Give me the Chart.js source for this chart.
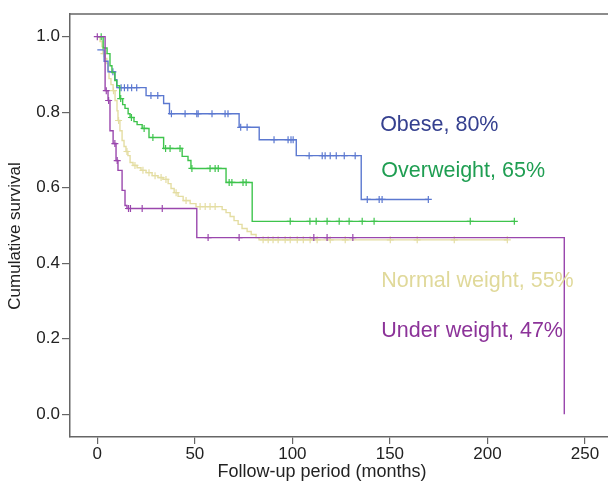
<!DOCTYPE html>
<html>
<head>
<meta charset="utf-8">
<style>
  html, body { margin: 0; padding: 0; background: #fff; overflow: hidden; }
  #wrap { width: 608px; height: 482px; overflow: hidden; }
</style>
<script src="https://cdn.jsdelivr.net/npm/chart.js@4.4.1/dist/chart.umd.min.js"></script>
</head>
<body>
<div id="wrap"><canvas id="kmChart" width="620" height="482"></canvas></div>
<script>
// Kaplan-Meier curves by BMI group: step times (months) and survival after each step
const obeseTimes = [0, 3.5, 5.5, 9, 10, 25, 34, 37, 72.7, 83, 102, 135.3];
const obeseSurv  = [0.965, 0.935, 0.907, 0.886, 0.865, 0.844, 0.823, 0.796, 0.76, 0.727, 0.685, 0.569];
const obeseEnd = 169.7;
const obeseCensor = [8, 12.2, 13.9, 15.6, 17.6, 20.2, 27.5, 31, 38, 45, 51, 51.7, 58.8, 65.5, 67, 73.5, 76.8,
  90.6, 97.8, 99.3, 100.4, 108.6, 115.3, 116.8, 119.4, 122.5, 126.6, 132.2, 138.4, 144.5, 146, 169.7];

const overTimes = [0, 3, 5, 6.5, 7.5, 9, 10, 11.5, 13, 14.2, 15.8, 16.8, 18.8, 20.4, 23, 26.5, 34, 43.5, 46.5, 48, 66, 79.4];
const overSurv  = [1, 0.97, 0.955, 0.923, 0.905, 0.884, 0.87, 0.836, 0.82, 0.81, 0.796, 0.786, 0.775, 0.767, 0.757, 0.733,
  0.704, 0.683, 0.672, 0.651, 0.614, 0.511];
const overEnd = 213.8;
const overCensor = [2, 12, 17.5, 24, 28.5, 35, 37.3, 42.4, 48.5, 57.8, 60.4, 62, 67.6, 69, 74.7, 76.3,
  98.9, 109, 112.2, 117.8, 124, 129.1, 135.8, 141.9, 191.2, 213.8];

const normalTimes = [0, 1.4, 2.4, 2.9, 4.0, 4.9, 5.5, 6.0, 7.0, 8.1, 9.1, 10.1, 10.6, 11.6, 12.7, 13.7, 14.7, 15.7, 16.8,
  18.3, 20.4, 22.4, 25.0, 28.1, 31.1, 33.7, 36.3, 37.8, 39.4, 41.4, 44.0, 47.6, 50.6, 64.0, 66.0, 68.1, 70.1,
  72.2, 74.2, 76.8, 78.9, 81.4, 82.9];
const normalSurv  = [1, 0.987, 0.974, 0.955, 0.942, 0.929, 0.91, 0.889, 0.873, 0.857, 0.831, 0.804, 0.778, 0.751, 0.725,
  0.709, 0.696, 0.685, 0.667, 0.659, 0.653, 0.646, 0.640, 0.632, 0.627, 0.622, 0.611, 0.598, 0.587, 0.577,
  0.566, 0.558, 0.550, 0.542, 0.534, 0.524, 0.513, 0.503, 0.492, 0.484, 0.476, 0.468, 0.462];
const normalEnd = 210.2;
const normalCensor = [3.4, 8.3, 10.9, 15.2, 19.3, 23.4, 26.5, 29.6, 32.7, 35.2, 40.4, 45.5, 52.7, 55.3, 57.8, 60.4,
  85, 87.6, 90.1, 92.7, 96.3, 98.9, 102.5, 105.6, 109.1, 112.7, 119.4, 127.1, 150.2, 164, 183, 210.2];

const underTimes = [0, 4, 5.5, 6.5, 8.1, 9.6, 10.6, 12.7, 14.2, 15.2, 51, 239.4];
const underSurv  = [1, 0.857, 0.831, 0.751, 0.717, 0.672, 0.646, 0.593, 0.553, 0.545, 0.468, 0];
const underEnd = 239.4;
const underCensor = [0, 4.6, 5.8, 9, 10.2, 16, 17, 23, 33.3, 56.8, 72.7, 111, 117.8, 131];

const groupLabels = ['Obese, 80%', 'Overweight, 65%', 'Normal weight, 55%', 'Under weight, 47%'];

const xTicks = [0, 50, 100, 150, 200, 250];
const yTicks = [0, 0.2, 0.4, 0.6, 0.8, 1.0];

function survAt(times, surv, t) {
    let s = surv[0];
    for (let i = 0; i < times.length; i++) {
        if (times[i] <= t) s = surv[i];
    }
    return s;
}

function stepSet(times, surv, end, color, order) {
    const pts = times.map((t, i) => ({ x: t, y: surv[i] }));
    pts.push({ x: end, y: surv[surv.length - 1] });
    return {
        data: pts,
        showLine: true,
        borderColor: color,
        borderWidth: 1.4,
        stepped: true,
        pointRadius: 0,
        fill: false,
        order: order
    };
}

function censorSet(times, surv, cens, color, order) {
    return {
        data: cens.map(t => ({ x: t, y: survAt(times, surv, t) })),
        showLine: false,
        pointStyle: 'cross',
        pointRadius: 3.5,
        borderColor: color,
        borderWidth: 1.2,
        order: order
    };
}

const blue = '#5b78d0', green = '#3ec44c', khaki = '#e4dda2', purple = '#9a47ad';
const axisFont = '"Liberation Sans", Arial, sans-serif';

// group labels, top edge of the box and axis titles
const labelPlugin = {
    id: 'kmLabels',
    afterDraw(chart) {
        const c = chart.ctx, a = chart.chartArea;
        const xs = chart.scales.x, ys = chart.scales.y;
        c.save();
        c.strokeStyle = '#666';
        c.lineWidth = 1.5;
        c.beginPath();
        c.moveTo(a.left, a.top);
        c.lineTo(chart.width, a.top);
        c.stroke();

        const spots = [[145, 0.765, '#35408f'], [145.6, 0.643, '#1f9e52'], [145.6, 0.352, '#e0d99a'], [145.6, 0.22, '#8c3399']];
        c.font = '21.5px ' + axisFont;
        c.textBaseline = 'middle';
        c.textAlign = 'left';
        groupLabels.forEach((txt, i) => {
            c.fillStyle = spots[i][2];
            c.fillText(txt, xs.getPixelForValue(spots[i][0]), ys.getPixelForValue(spots[i][1]));
        });

        c.fillStyle = '#222';
        c.font = '18px ' + axisFont;
        c.textAlign = 'center';
        c.fillText('Follow-up period (months)', 322, 472);
        c.font = '17px ' + axisFont;
        c.translate(15, 236);
        c.rotate(-Math.PI / 2);
        c.fillText('Cumulative survival', 0, 0);
        c.restore();
    }
};

document.addEventListener('DOMContentLoaded', function () {
    const ctx = document.getElementById('kmChart').getContext('2d');
    new Chart(ctx, {
        type: 'scatter',
        data: {
            datasets: [
                stepSet(underTimes, underSurv, underEnd, purple, 0),
                censorSet(underTimes, underSurv, underCensor, purple, 0),
                stepSet(overTimes, overSurv, overEnd, green, 1),
                censorSet(overTimes, overSurv, overCensor, green, 1),
                stepSet(obeseTimes, obeseSurv, obeseEnd, blue, 2),
                censorSet(obeseTimes, obeseSurv, obeseCensor, blue, 2),
                stepSet(normalTimes, normalSurv, normalEnd, khaki, 3),
                censorSet(normalTimes, normalSurv, normalCensor, khaki, 3)
            ]
        },
        options: {
            responsive: false,
            animation: false,
            layout: { padding: { top: 14, left: 0, right: 0, bottom: 0 } },
            plugins: { legend: { display: false }, tooltip: { enabled: false } },
            scales: {
                x: {
                    type: 'linear',
                    min: -14,
                    max: 265.3,
                    afterBuildTicks: s => { s.ticks = xTicks.map(v => ({ value: v })); },
                    afterFit: s => { s.height = 45; },
                    grid: { drawOnChartArea: false, tickLength: 7, color: '#666', lineWidth: 1.2 },
                    border: { color: '#666', width: 1.5 },
                    ticks: {
                        color: '#222', padding: 0, maxRotation: 0, autoSkip: false,
                        font: { size: 17, family: axisFont }
                    }
                },
                y: {
                    min: -0.06,
                    max: 1.06,
                    afterBuildTicks: s => { s.ticks = yTicks.map(v => ({ value: v })); },
                    afterFit: s => { s.width = 70; },
                    grid: { drawOnChartArea: false, tickLength: 8, color: '#666', lineWidth: 1.2 },
                    border: { color: '#666', width: 1.5 },
                    ticks: {
                        color: '#222', padding: 2,
                        callback: v => v.toFixed(1),
                        font: { size: 17, family: axisFont }
                    }
                }
            }
        },
        plugins: [labelPlugin]
    });
});
</script>
</body>
</html>
